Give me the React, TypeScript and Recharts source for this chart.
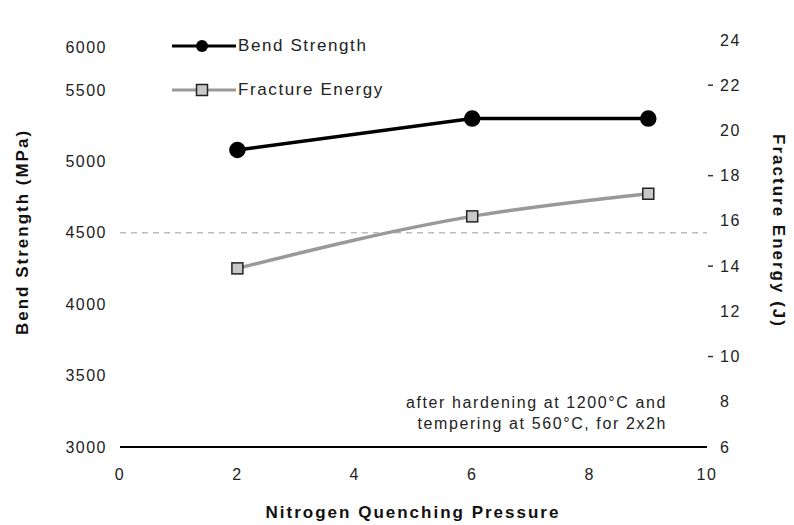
import React from "react";
import { LineChart, Line, XAxis, YAxis, ReferenceLine } from "recharts";

const pressures = [2, 6, 9];
const bendStrength = [5080, 5300, 5300];
const fractureEnergy = [13.9, 16.2, 17.2];

const xTicks = [0, 2, 4, 6, 8, 10];
const leftTicks = [3000, 3500, 4000, 4500, 5000, 5500, 5800];
const leftTickLabels = ["3000", "3500", "4000", "4500", "5000", "5500", "6000"];
const rightTicks = [6, 8, 10, 12, 14, 16, 18, 20, 22, 24];

const data = pressures.map((p, i) => ({
  pressure: p,
  bend: bendStrength[i],
  energy: fractureEnergy[i],
}));

const FONT = "'Liberation Sans', Arial, sans-serif";
const tickStyle = { fill: "#222", fontSize: 16, fontFamily: FONT, letterSpacing: 1.5 };
const titleStyle = { fontSize: 17, fontWeight: "bold" as const, fontFamily: FONT, fill: "#111", letterSpacing: 2 };

function RightTick(props: any) {
  const { x, y, payload } = props;
  const v = payload.value;
  return (
    <g>
      {v % 4 === 2 && v !== 6 ? (
        <line x1={x - 12} x2={x - 7} y1={y} y2={y} stroke="#333" strokeWidth={1.5} />
      ) : null}
      <text x={x} y={y} dy="0.35em" textAnchor="start" {...tickStyle}>
        {v}
      </text>
    </g>
  );
}

function SquareDot(props: any) {
  const { cx, cy } = props;
  if (cx == null || cy == null) return null;
  return (
    <rect x={cx - 5.5} y={cy - 5.5} width={11} height={11} fill="#c8c8c8" stroke="#222" strokeWidth={1.5} />
  );
}

function LegendBox() {
  const row = (color: string, marker: React.ReactNode, label: string) => (
    <div style={{ display: "flex", alignItems: "center", height: 44 }}>
      <svg width={64} height={20}>
        <line x1={0} x2={64} y1={10} y2={10} stroke={color} strokeWidth={3} />
        {marker}
      </svg>
      <span style={{ fontSize: 17, letterSpacing: 1.6, color: "#222", marginLeft: 2 }}>{label}</span>
    </div>
  );
  return (
    <div style={{ position: "absolute", left: 172, top: 24, fontFamily: FONT }}>
      {row("#000", <circle cx={30} cy={10} r={6} fill="#000" />, "Bend Strength")}
      {row(
        "#999",
        <rect x={24.5} y={4.5} width={11} height={11} fill="#c8c8c8" stroke="#222" strokeWidth={1.5} />,
        "Fracture Energy"
      )}
    </div>
  );
}

function Titles() {
  return (
    <svg width={794} height={525} style={{ position: "absolute", left: 0, top: 0, pointerEvents: "none" }}>
      <text x={413} y={518} textAnchor="middle" {...titleStyle}>
        Nitrogen Quenching Pressure
      </text>
      <text
        x={0}
        y={0}
        textAnchor="middle"
        dominantBaseline="central"
        transform="translate(22 232) rotate(-90)"
        {...titleStyle}
      >
        Bend Strength (MPa)
      </text>
      <text
        x={0}
        y={0}
        textAnchor="middle"
        dominantBaseline="central"
        transform="translate(778 231) rotate(90)"
        {...titleStyle}
      >
        Fracture Energy (J)
      </text>
    </svg>
  );
}

export default function App() {
  return (
    <div style={{ position: "absolute", left: 0, top: 0, width: 794, height: 525, background: "#fff" }}>
      <LineChart
        width={794}
        height={525}
        data={data}
        margin={{ top: 40, right: 10, bottom: 2, left: 10 }}
      >
        <XAxis
          dataKey="pressure"
          type="number"
          domain={[0, 10]}
          ticks={xTicks}
          axisLine={{ stroke: "#000", strokeWidth: 2 }}
          tickLine={false}
          tickSize={6}
          tickMargin={16}
          height={76}
          tick={tickStyle}
        />
        <YAxis
          yAxisId="left"
          orientation="left"
          type="number"
          domain={[3000, 5850]}
          ticks={leftTicks}
          tickFormatter={(v: number) => leftTickLabels[leftTicks.indexOf(v)] ?? String(v)}
          axisLine={false}
          tickLine={false}
          tickSize={6}
          tickMargin={7}
          width={110}
          tick={tickStyle}
        />
        <YAxis
          yAxisId="right"
          orientation="right"
          type="number"
          domain={[6, 24]}
          ticks={rightTicks}
          axisLine={false}
          tickLine={false}
          tickSize={6}
          tickMargin={7}
          width={77}
          tick={<RightTick />}
        />
        <ReferenceLine yAxisId="left" y={4500} stroke="#bdbdbd" strokeDasharray="6 5" strokeWidth={1.5} />
        <Line
          yAxisId="left"
          dataKey="bend"
          name="Bend Strength"
          type="linear"
          stroke="#000"
          strokeWidth={3.5}
          dot={{ r: 6.5, fill: "#000", stroke: "#000" }}
          isAnimationActive={false}
        />
        <Line
          yAxisId="right"
          dataKey="energy"
          name="Fracture Energy"
          type="monotone"
          stroke="#999"
          strokeWidth={3.5}
          dot={<SquareDot />}
          isAnimationActive={false}
        />
      </LineChart>
      <Titles />
      <LegendBox />
      <div
        style={{
          position: "absolute",
          right: 794 - 667,
          top: 392,
          textAlign: "right",
          fontFamily: FONT,
          fontSize: 16,
          letterSpacing: 1.6,
          lineHeight: "21px",
          color: "#222",
        }}
      >
        after hardening at 1200°C and
        <br />
        tempering at 560°C, for 2x2h
      </div>
    </div>
  );
}
